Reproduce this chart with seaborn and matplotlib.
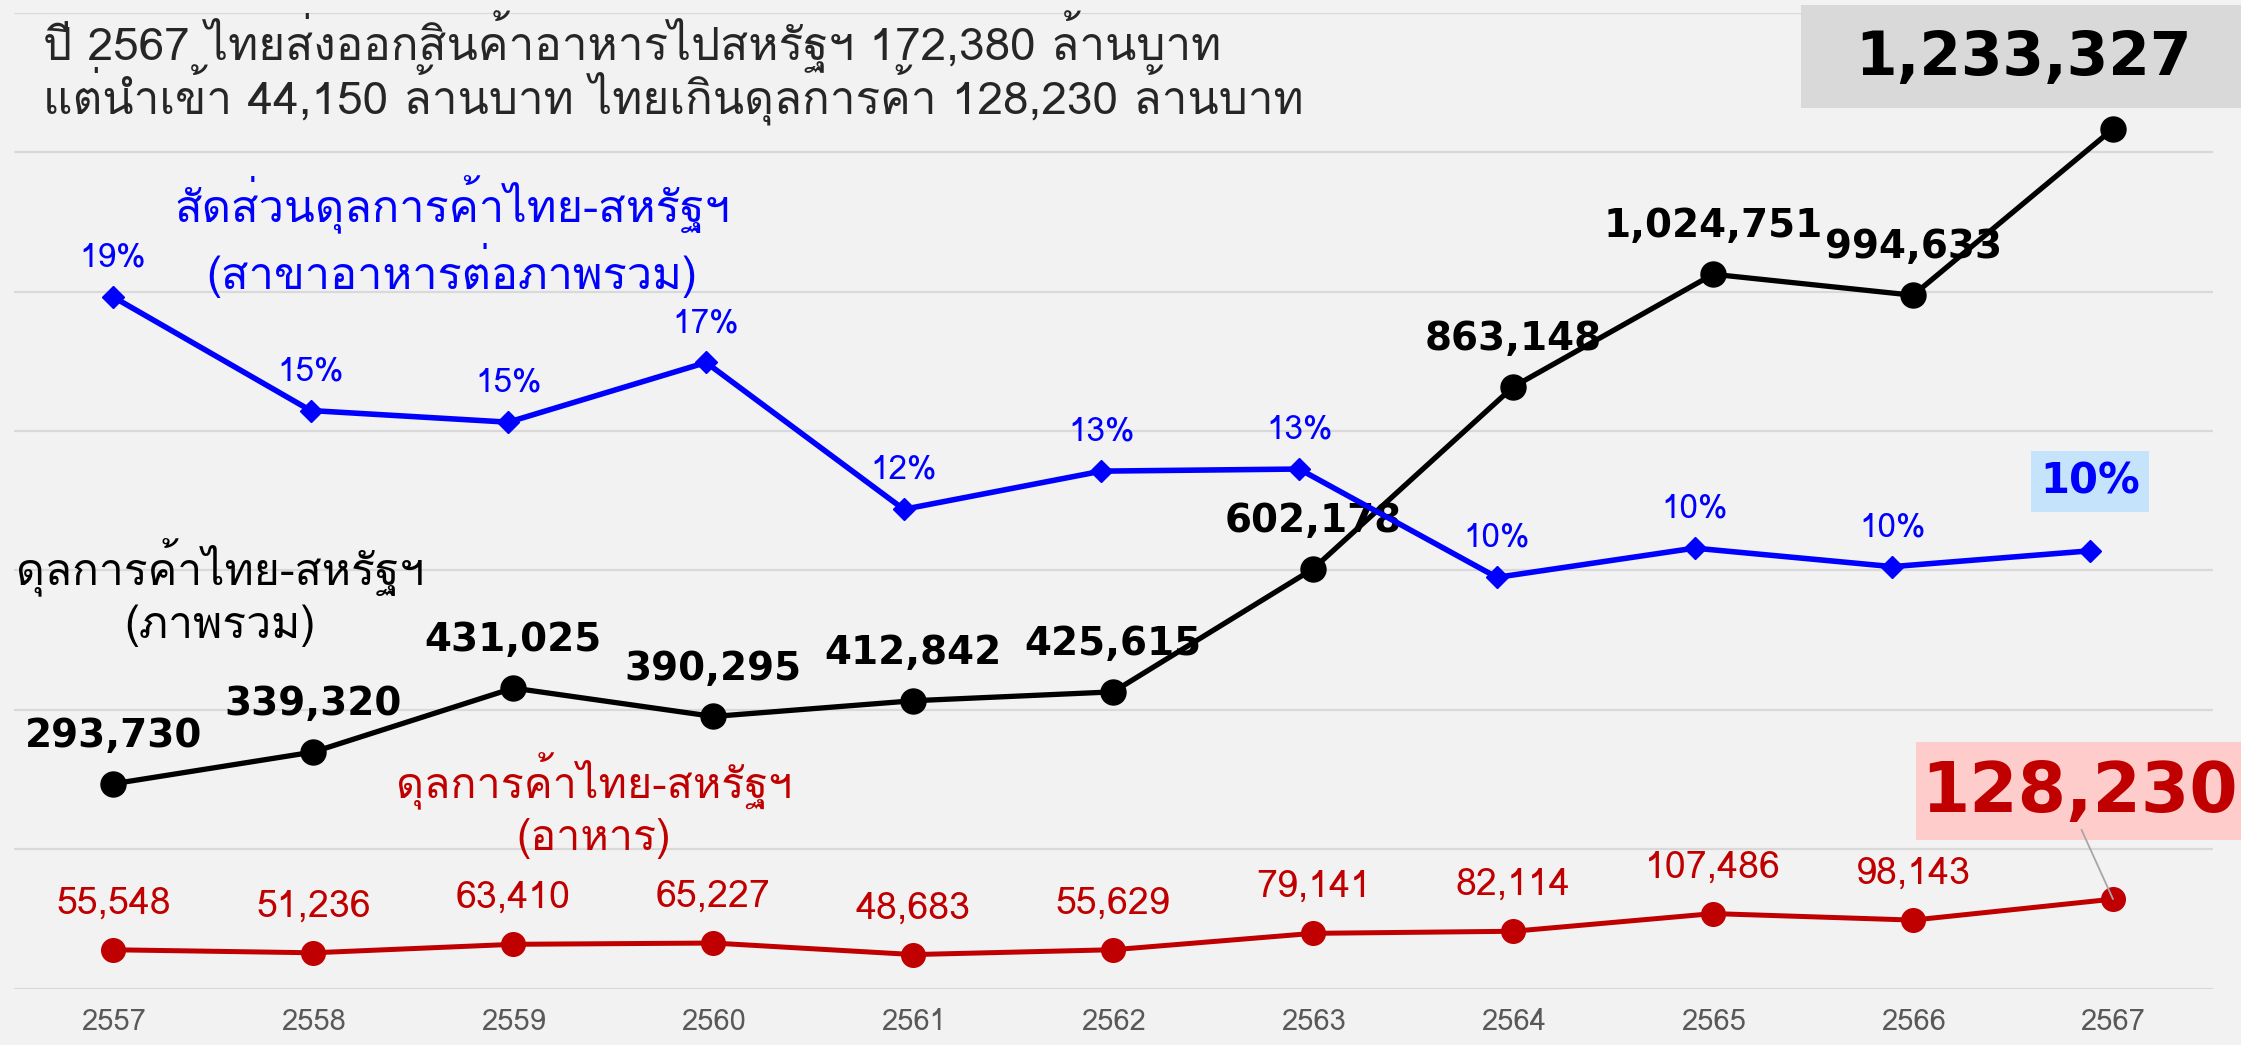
import matplotlib
matplotlib.use('Agg')
import matplotlib.pyplot as plt
from matplotlib.patches import Rectangle
import seaborn as sns
import pandas as pd

# data (million baht, Thai years)
years = ['2557', '2558', '2559', '2560', '2561', '2562', '2563', '2564', '2565', '2566', '2567']
total_balance = [293730, 339320, 431025, 390295, 412842, 425615, 602178, 863148, 1024751, 994633, 1233327]
food_balance = [55548, 51236, 63410, 65227, 48683, 55629, 79141, 82114, 107486, 98143, 128230]
food_share = [18.91, 15.10, 14.71, 16.71, 11.79, 13.07, 13.14, 9.51, 10.49, 9.87, 10.40]

title_lines = ['ปี 2567 ไทยส่งออกสินค้าอาหารไปสหรัฐฯ 172,380 ล้านบาท',
               'แต่นำเข้า 44,150 ล้านบาท ไทยเกินดุลการค้า 128,230 ล้านบาท']
lbl_total = 'ดุลการค้าไทย-สหรัฐฯ\n(ภาพรวม)'
lbl_food = 'ดุลการค้าไทย-สหรัฐฯ\n(อาหาร)'
lbl_share = 'สัดส่วนดุลการค้าไทย-สหรัฐฯ\n(สาขาอาหารต่อภาพรวม)'

df = pd.DataFrame({'i': range(len(years)), 'total': total_balance,
                   'food': food_balance, 'share': food_share})

BG = '#f2f2f2'
BLACK = '#000000'
RED = '#c00000'
BLUE = '#0000ff'

sns.set_theme(style='white')
plt.rcParams['font.family'] = ['Loma', 'DejaVu Sans']
plt.rcParams['axes.unicode_minus'] = False

W, H = 2241, 1045
fig = plt.figure(figsize=(W / 100, H / 100), dpi=100, facecolor=BG)
rect = [13.5 / W, 1 - 988.5 / H, 2199.5 / W, 975.8 / H]
ax = fig.add_axes(rect, facecolor=BG)

sns.lineplot(data=df, x='i', y='total', ax=ax, color=BLACK, lw=3.8,
             marker='o', markersize=18, markeredgewidth=1, markeredgecolor=BLACK, zorder=3)
sns.lineplot(data=df, x='i', y='food', ax=ax, color=RED, lw=3.6,
             marker='o', markersize=17, markeredgewidth=1, markeredgecolor=RED, zorder=3)

ax.set_xlim(-0.5, 10.5)
ax.set_ylim(0, 1400000)
ax.set_yticks(range(0, 1400001, 200000))
ax.yaxis.grid(True, color='#d9d9d9', lw=1.6)
ax.xaxis.grid(False)
ax.set_xticks(range(len(years)))
ax.set_xticklabels(years, color='#595959', fontsize=21)
ax.tick_params(axis='x', length=0, pad=14)
ax.tick_params(axis='y', length=0, labelleft=False)
ax.set_xlabel('')
ax.set_ylabel('')
for s in ax.spines.values():
    s.set_visible(False)

# data labels
for i, v in enumerate(total_balance[:-1]):
    ax.annotate(f'{v:,}', (i, v), xytext=(0, 34.5), textcoords='offset points',
                ha='center', va='center', fontsize=28, fontweight='bold',
                family='DejaVu Sans', color=BLACK, zorder=5)
for i, v in enumerate(food_balance[:-1]):
    ax.annotate(f'{v:,}', (i, v), xytext=(0, 33), textcoords='offset points',
                ha='center', va='center', fontsize=27, color=RED, zorder=5)

# highlighted last values
ax.add_patch(Rectangle((1801 / W, 1 - 108 / H), 445 / W, 103 / H, transform=fig.transFigure,
                       facecolor='#d9d9d9', edgecolor='none', clip_on=False, zorder=4))
ax.annotate(f'{total_balance[-1]:,}', (10, total_balance[-1]), xytext=(2024, H - 58),
            textcoords='figure pixels', ha='center', va='center', fontsize=43,
            fontweight='bold', family='DejaVu Sans', color=BLACK, zorder=6,
            annotation_clip=False)
ax.add_patch(Rectangle((1916 / W, 1 - 840 / H), 330 / W, 98 / H, transform=fig.transFigure,
                       facecolor='#ffcccc', edgecolor='none', clip_on=False, zorder=4))
ax.annotate(f'{food_balance[-1]:,}', (10, food_balance[-1]), xytext=(2080, H - 793),
            textcoords='figure pixels', ha='center', va='center', fontsize=50,
            fontweight='bold', family='DejaVu Sans', color=RED, zorder=6,
            annotation_clip=False,
            arrowprops=dict(arrowstyle='-', color='#a6a6a6', lw=1.3,
                            shrinkA=0, shrinkB=0, relpos=(0.5, 0.0)))

# share line on its own overlay axes
ax2 = fig.add_axes(rect, facecolor='none')
sns.lineplot(data=df, x='i', y='share', ax=ax2, color=BLUE, lw=4,
             marker='D', markersize=11.5, markeredgewidth=1, markeredgecolor=BLUE)
ax2.set_xlim(-0.503, 10.622)
ax2.set_ylim(-4.265, 28.43)
ax2.axis('off')
for i, v in enumerate(food_share[:-1]):
    ax2.annotate(f'{v:.0f}%', (i, v), xytext=(0, 28), textcoords='offset points',
                 ha='center', va='center', fontsize=24, color=BLUE)
ax2.annotate(f'{food_share[-1]:.0f}%', (10, food_share[-1]), xytext=(0, 50),
             textcoords='offset points', ha='center', va='center', fontsize=30,
             fontweight='bold', family='DejaVu Sans', color=BLUE,
             bbox=dict(boxstyle='square,pad=0.22', fc='#c5e3fb', ec='none'))

# titles and series labels
fig.text(43 / W, 1 - 114 / H, '\n'.join(title_lines), fontsize=33, va='baseline',
         ha='left', linespacing=0.83)
fig.text(452 / W, 1 - 237 / H, lbl_share, fontsize=32.5, color=BLUE, ha='center',
         va='center', multialignment='center', linespacing=1.2)
fig.text(220 / W, 1 - 593 / H, lbl_total, fontsize=32, color=BLACK, ha='center',
         va='center', multialignment='center', linespacing=1.22)
fig.text(594 / W, 1 - 806 / H, lbl_food, fontsize=31, color=RED, ha='center',
         va='center', multialignment='center', linespacing=1.25)

fig.savefig('out.png', dpi=100, facecolor=BG)
